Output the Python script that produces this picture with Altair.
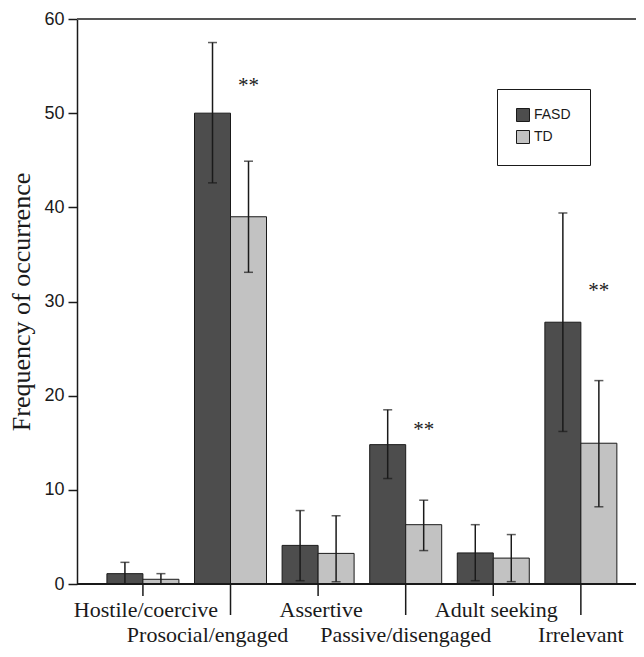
import altair as alt
import pandas as pd

categories = ["Hostile/coercive", "Prosocial/engaged", "Assertive",
              "Passive/disengaged", "Adult seeking", "Irrelevant"]
groups = ["FASD", "TD"]
fasd_mean = [1.1, 50.0, 4.1, 14.8, 3.3, 27.8]
fasd_low = [0.0, 42.6, 0.35, 11.2, 0.35, 16.2]
fasd_high = [2.3, 57.5, 7.8, 18.5, 6.3, 39.4]
td_mean = [0.5, 39.0, 3.25, 6.3, 2.75, 14.95]
td_low = [0.0, 33.1, 0.25, 3.55, 0.25, 8.2]
td_high = [1.1, 44.9, 7.25, 8.9, 5.25, 21.6]
label_row = [1, 2, 1, 2, 1, 2]
sig_categories = ["Prosocial/engaged", "Passive/disengaged", "Irrelevant"]
sig_y = [53.2, 16.7, 31.4]
y_ticks = [0, 10, 20, 30, 40, 50, 60]

rows = []
for i, c in enumerate(categories):
    rows.append({"category": c, "group": "FASD", "mean": fasd_mean[i],
                 "low": fasd_low[i], "high": fasd_high[i]})
    rows.append({"category": c, "group": "TD", "mean": td_mean[i],
                 "low": td_low[i], "high": td_high[i]})
df = pd.DataFrame(rows)
caps = pd.concat([
    df[["category", "group", "low"]].rename(columns={"low": "cap"}),
    df[["category", "group", "high"]].rename(columns={"high": "cap"}),
])
cat_df = pd.DataFrame({"category": categories, "row": label_row})
sig_df = pd.DataFrame({"category": sig_categories, "group": ["TD"] * 3,
                       "y": sig_y, "txt": ["**"] * 3})

W, H = 559, 565
INK = "#1a1a1a"
SERIF = "Liberation Serif, 'Times New Roman', serif"

x_enc = alt.X("category:N", sort=categories,
              scale=alt.Scale(paddingInner=0.178, paddingOuter=0.28, align=0.61),
              axis=None)
xo_enc = alt.XOffset("group:N", sort=groups)
y_scale = alt.Scale(domain=[0, 60], nice=False, zero=True)

bars = alt.Chart(df).mark_bar(stroke=INK, strokeWidth=1).encode(
    x=x_enc,
    xOffset=xo_enc,
    y=alt.Y("mean:Q", scale=y_scale, title="Frequency of occurrence",
            axis=alt.Axis(values=y_ticks, grid=False, domainColor=INK, domainWidth=1.5,
                          tickColor=INK, tickWidth=1.5, tickSize=9, labelPadding=4,
                          labelFont="Liberation Sans", labelFontSize=18, labelColor=INK,
                          titleFont=SERIF, titleFontSize=26,
                          titleFontWeight="normal", titleColor=INK, titlePadding=9)),
    color=alt.Color("group:N", scale=alt.Scale(domain=groups, range=["#4d4d4d", "#c2c2c2"]),
                    legend=alt.Legend(title=None, orient="none", legendX=420, legendY=70,
                                      strokeColor=INK, fillColor="white", padding=19,
                                      symbolType="square", symbolSize=169,
                                      symbolStrokeColor=INK, symbolStrokeWidth=1,
                                      labelFont="Liberation Sans", labelFontSize=14,
                                      labelColor=INK, labelOffset=4, rowPadding=4)),
)

err = alt.Chart(df).mark_rule(color=INK, strokeWidth=1.5).encode(
    x=x_enc, xOffset=xo_enc, y="low:Q", y2="high:Q")

cap_marks = alt.Chart(caps).mark_tick(color=INK, size=9, thickness=1.5,
                                      orient="horizontal").encode(
    x=x_enc, xOffset=xo_enc, y="cap:Q")

stars = alt.Chart(sig_df).mark_text(font=SERIF, fontSize=21, color=INK,
                                    baseline="alphabetic", dy=9).encode(
    x=x_enc, xOffset=xo_enc, y="y:Q", text="txt:N")

top_line = alt.Chart(cat_df).mark_rule(color="#555555", strokeWidth=2).encode(
    y=alt.datum(60), x=alt.value(0), x2=alt.value(W))
x_line = alt.Chart(cat_df).mark_rule(color=INK, strokeWidth=1.5).encode(
    y=alt.datum(0), x=alt.value(0), x2=alt.value(W))

short_ticks = alt.Chart(cat_df).transform_filter("datum.row == 1").mark_rule(
    color=INK, strokeWidth=1.5).encode(x=x_enc, y=alt.value(H), y2=alt.value(H + 12))
long_ticks = alt.Chart(cat_df).transform_filter("datum.row == 2").mark_rule(
    color=INK, strokeWidth=1.5).encode(x=x_enc, y=alt.value(H), y2=alt.value(H + 31))

lab1 = alt.Chart(cat_df).transform_filter("datum.row == 1").mark_text(
    font=SERIF, fontSize=22, color=INK, baseline="alphabetic", dx=3).encode(
    x=x_enc, y=alt.value(H + 33), text="category:N")
lab2a = alt.Chart(cat_df).transform_filter(
    "datum.row == 2 && datum.category == 'Prosocial/engaged'").mark_text(
    font=SERIF, fontSize=22, color=INK, baseline="alphabetic", dx=-23).encode(
    x=x_enc, y=alt.value(H + 58), text="category:N")
lab2b = alt.Chart(cat_df).transform_filter(
    "datum.row == 2 && datum.category != 'Prosocial/engaged'").mark_text(
    font=SERIF, fontSize=22, color=INK, baseline="alphabetic").encode(
    x=x_enc, y=alt.value(H + 58), text="category:N")

chart = alt.layer(top_line, bars, err, cap_marks, stars, x_line, short_ticks, long_ticks,
                  lab1, lab2a, lab2b).properties(
    width=W, height=H,
    autosize=alt.AutoSizeParams(type="none"),
    padding={"left": 69, "top": 11, "right": 0, "bottom": 65},
).configure_view(strokeWidth=0, stroke="transparent").configure(background="white")

chart.save("out.html", embed_options={"renderer": "svg", "actions": False})
